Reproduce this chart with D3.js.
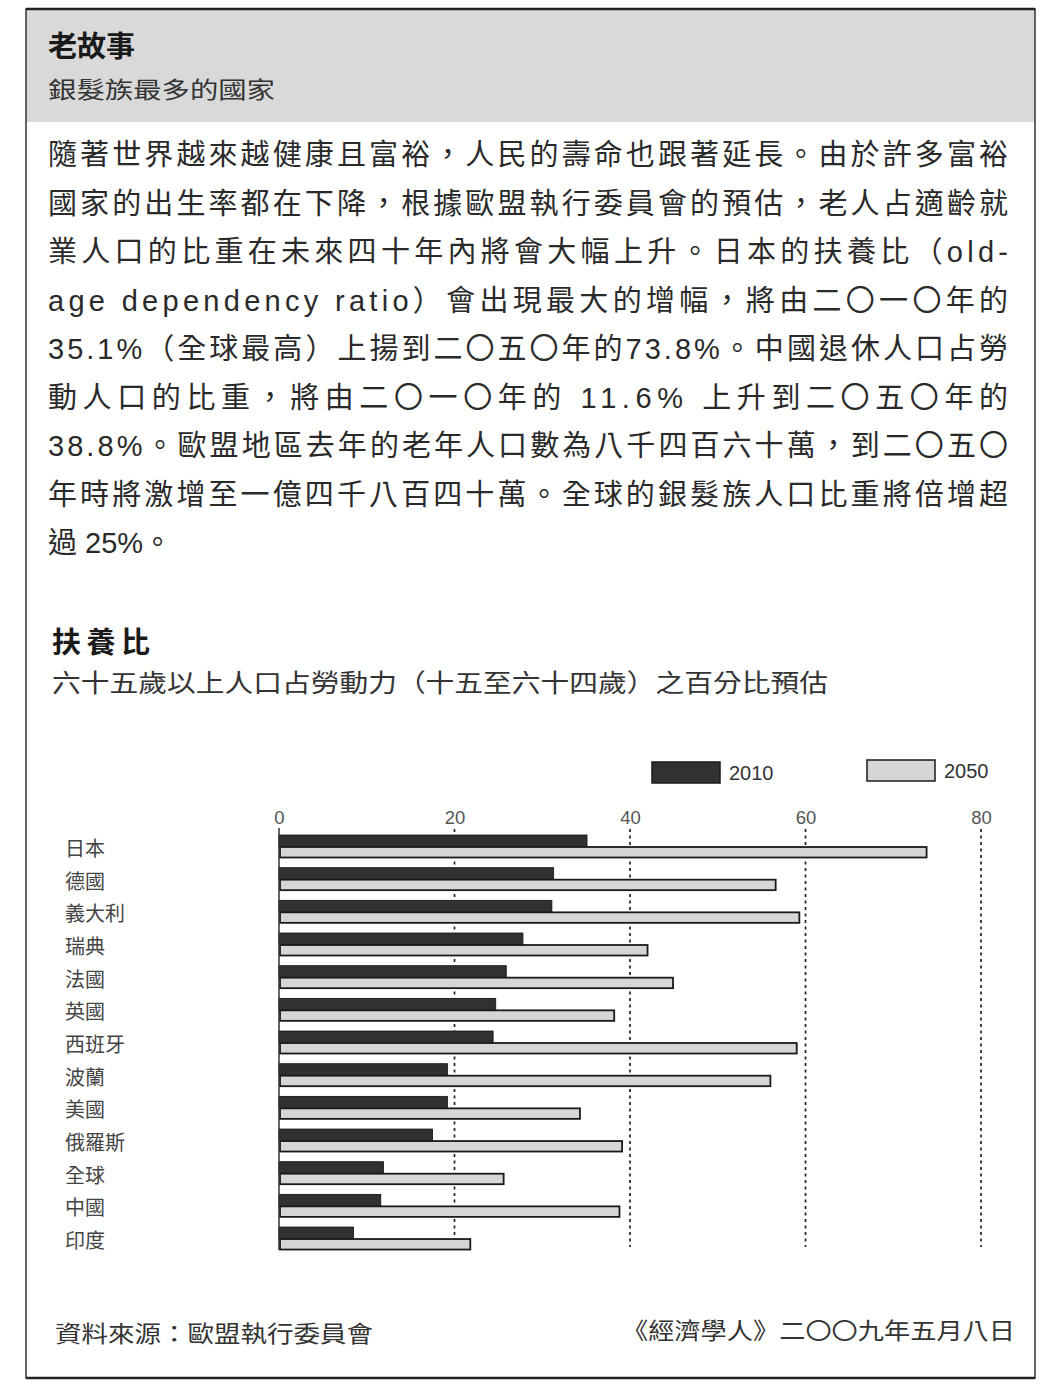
<!DOCTYPE html>
<html>
<head>
<meta charset="utf-8">
<script src="https://cdn.jsdelivr.net/npm/d3@7"></script>
<style>
  body { margin: 0; background: #fff; }
  svg { display: block; }
  text { font-family: "Liberation Sans", "Noto Sans CJK TC", sans-serif; }
</style>
</head>
<body>
<svg id="chart" width="1049" height="1390"></svg>
<script>
// header and article text
var title = "老故事";
var subtitle = "銀髮族最多的國家";
var bodyLines = [
	"隨著世界越來越健康且富裕，人民的壽命也跟著延長。由於許多富裕",
	"國家的出生率都在下降，根據歐盟執行委員會的預估，老人占適齡就",
	"業人口的比重在未來四十年內將會大幅上升。日本的扶養比（old-",
	"age dependency ratio）會出現最大的增幅，將由二〇一〇年的",
	"35.1%（全球最高）上揚到二〇五〇年的73.8%。中國退休人口占勞",
	"動人口的比重，將由二〇一〇年的 11.6% 上升到二〇五〇年的",
	"38.8%。歐盟地區去年的老年人口數為八千四百六十萬，到二〇五〇",
	"年時將激增至一億四千八百四十萬。全球的銀髮族人口比重將倍增超",
	"過 25%。"
];
var chartTitle = "扶養比";
var chartSubtitle = "六十五歲以上人口占勞動力（十五至六十四歲）之百分比預估";
var sourceText = "資料來源：歐盟執行委員會";
var creditText = "《經濟學人》二〇〇九年五月八日";

// chart data (percent)
var countries = ["日本", "德國", "義大利", "瑞典", "法國", "英國", "西班牙",
	"波蘭", "美國", "俄羅斯", "全球", "中國", "印度"];
var v2010 = [35.1, 31.3, 31.1, 27.8, 25.9, 24.7, 24.4, 19.2, 19.2, 17.5, 11.9, 11.6, 8.5];
var v2050 = [73.8, 56.6, 59.3, 42.0, 44.9, 38.2, 59.0, 56.0, 34.3, 39.1, 25.6, 38.8, 21.8];
var seriesNames = ["2010", "2050"];
var tickValues = [0, 20, 40, 60, 80];

var svg = d3.select("#chart");
var darkFill = "#313131", lightFill = "#d6d6d6";

// grey header band and frame
svg.append("rect").attr("x", 26).attr("y", 9).attr("width", 1009).attr("height", 113)
	.attr("fill", "#d9d9d9");
svg.append("rect").attr("x", 26).attr("y", 9).attr("width", 1009).attr("height", 1369)
	.attr("fill", "none").attr("stroke", "#333").attr("stroke-width", 1.5);
svg.append("line").attr("x1", 26).attr("x2", 1035).attr("y1", 9).attr("y2", 9)
	.attr("stroke", "#222").attr("stroke-width", 2.5);
svg.append("line").attr("x1", 26).attr("x2", 1035).attr("y1", 1378).attr("y2", 1378)
	.attr("stroke", "#222").attr("stroke-width", 2.5);

svg.append("text").attr("x", 48).attr("y", 47).attr("dominant-baseline", "central")
	.attr("font-size", 29).attr("font-weight", "bold").attr("fill", "#1a1a1a").text(title);
svg.append("text").attr("x", 48).attr("y", 90).attr("dominant-baseline", "central")
	.attr("font-size", 23).attr("fill", "#333")
	.attr("textLength", 227).attr("lengthAdjust", "spacingAndGlyphs").text(subtitle);

// article paragraph, justified lines
svg.append("g").selectAll("text")
	.data(bodyLines)
	.enter()
	.append("text")
	.attr("x", 48)
	.attr("y", (d, i) => 155 + i * 48.5)
	.attr("dominant-baseline", "central")
	.attr("font-size", 29)
	.attr("fill", "#2a2a2a")
	.attr("textLength", (d, i) => i < bodyLines.length - 1 ? 960 : null)
	.attr("lengthAdjust", "spacing")
	.text(d => d);

svg.append("text").attr("x", 52).attr("y", 643).attr("dominant-baseline", "central")
	.attr("font-size", 29).attr("font-weight", "bold").attr("fill", "#1a1a1a")
	.attr("textLength", 98).text(chartTitle);
svg.append("text").attr("x", 52).attr("y", 683).attr("dominant-baseline", "central")
	.attr("font-size", 25).attr("fill", "#333")
	.attr("textLength", 776).attr("lengthAdjust", "spacingAndGlyphs").text(chartSubtitle);

// scales
var x = d3.scaleLinear().domain([0, 80]).range([279, 981]);
var y = d3.scaleBand().domain(countries).range([835, 835 + 32.67 * countries.length]);

// axis labels along the top
var axis = d3.axisTop(x).tickValues(tickValues).tickSize(0).tickPadding(0);
var axisG = svg.append("g").attr("transform", "translate(0,824)").call(axis);
axisG.select(".domain").remove();
axisG.selectAll("text")
	.attr("font-size", 18.5)
	.attr("fill", "#555")
	.attr("font-family", "\"Liberation Sans Narrow\", \"Liberation Sans\", sans-serif");

// dotted grid lines
svg.append("g").selectAll("line")
	.data(tickValues.slice(1))
	.enter()
	.append("line")
	.attr("x1", d => x(d)).attr("x2", d => x(d))
	.attr("y1", 829).attr("y2", 1247)
	.attr("stroke", "#222").attr("stroke-width", 1.7)
	.attr("stroke-dasharray", "3,3.5");

// bars
var rows = svg.append("g").selectAll("g")
	.data(countries)
	.enter()
	.append("g")
	.attr("transform", d => "translate(0," + y(d) + ")");

rows.append("rect")
	.attr("x", x(0))
	.attr("y", 0)
	.attr("width", (d, i) => x(v2010[i]) - x(0))
	.attr("height", 12)
	.attr("fill", darkFill)
	.attr("stroke", "#111").attr("stroke-width", 0.8);

rows.append("rect")
	.attr("x", x(0) + 1)
	.attr("y", 12)
	.attr("width", (d, i) => x(v2050[i]) - x(0) - 1)
	.attr("height", 10.5)
	.attr("fill", lightFill)
	.attr("stroke", "#1a1a1a").attr("stroke-width", 1.8);

rows.append("text")
	.attr("x", 65)
	.attr("y", 14)
	.attr("dominant-baseline", "central")
	.attr("font-size", 20)
	.attr("fill", "#444")
	.text(d => d);

// zero axis line
svg.append("line").attr("x1", x(0)).attr("x2", x(0)).attr("y1", 828).attr("y2", 1250)
	.attr("stroke", "#333").attr("stroke-width", 1.5);

// legend
var legendX = [652, 867], legendY = [762, 760];
var legend = svg.append("g").selectAll("g")
	.data(seriesNames)
	.enter()
	.append("g")
	.attr("transform", (d, i) => "translate(" + legendX[i] + "," + legendY[i] + ")");
legend.append("rect")
	.attr("width", 68).attr("height", 21)
	.attr("fill", (d, i) => i == 0 ? darkFill : lightFill)
	.attr("stroke", "#1a1a1a").attr("stroke-width", 1.5);
legend.append("text")
	.attr("x", 77).attr("y", 11)
	.attr("dominant-baseline", "central")
	.attr("font-size", 20).attr("fill", "#333")
	.text(d => d);

// footer
svg.append("text").attr("x", 55).attr("y", 1334).attr("dominant-baseline", "central")
	.attr("font-size", 23).attr("fill", "#333")
	.attr("textLength", 318).attr("lengthAdjust", "spacingAndGlyphs").text(sourceText);
svg.append("text").attr("x", 622).attr("y", 1331).attr("dominant-baseline", "central")
	.attr("font-size", 23).attr("fill", "#333")
	.attr("textLength", 393).attr("lengthAdjust", "spacingAndGlyphs").text(creditText);
</script>
</body>
</html>
